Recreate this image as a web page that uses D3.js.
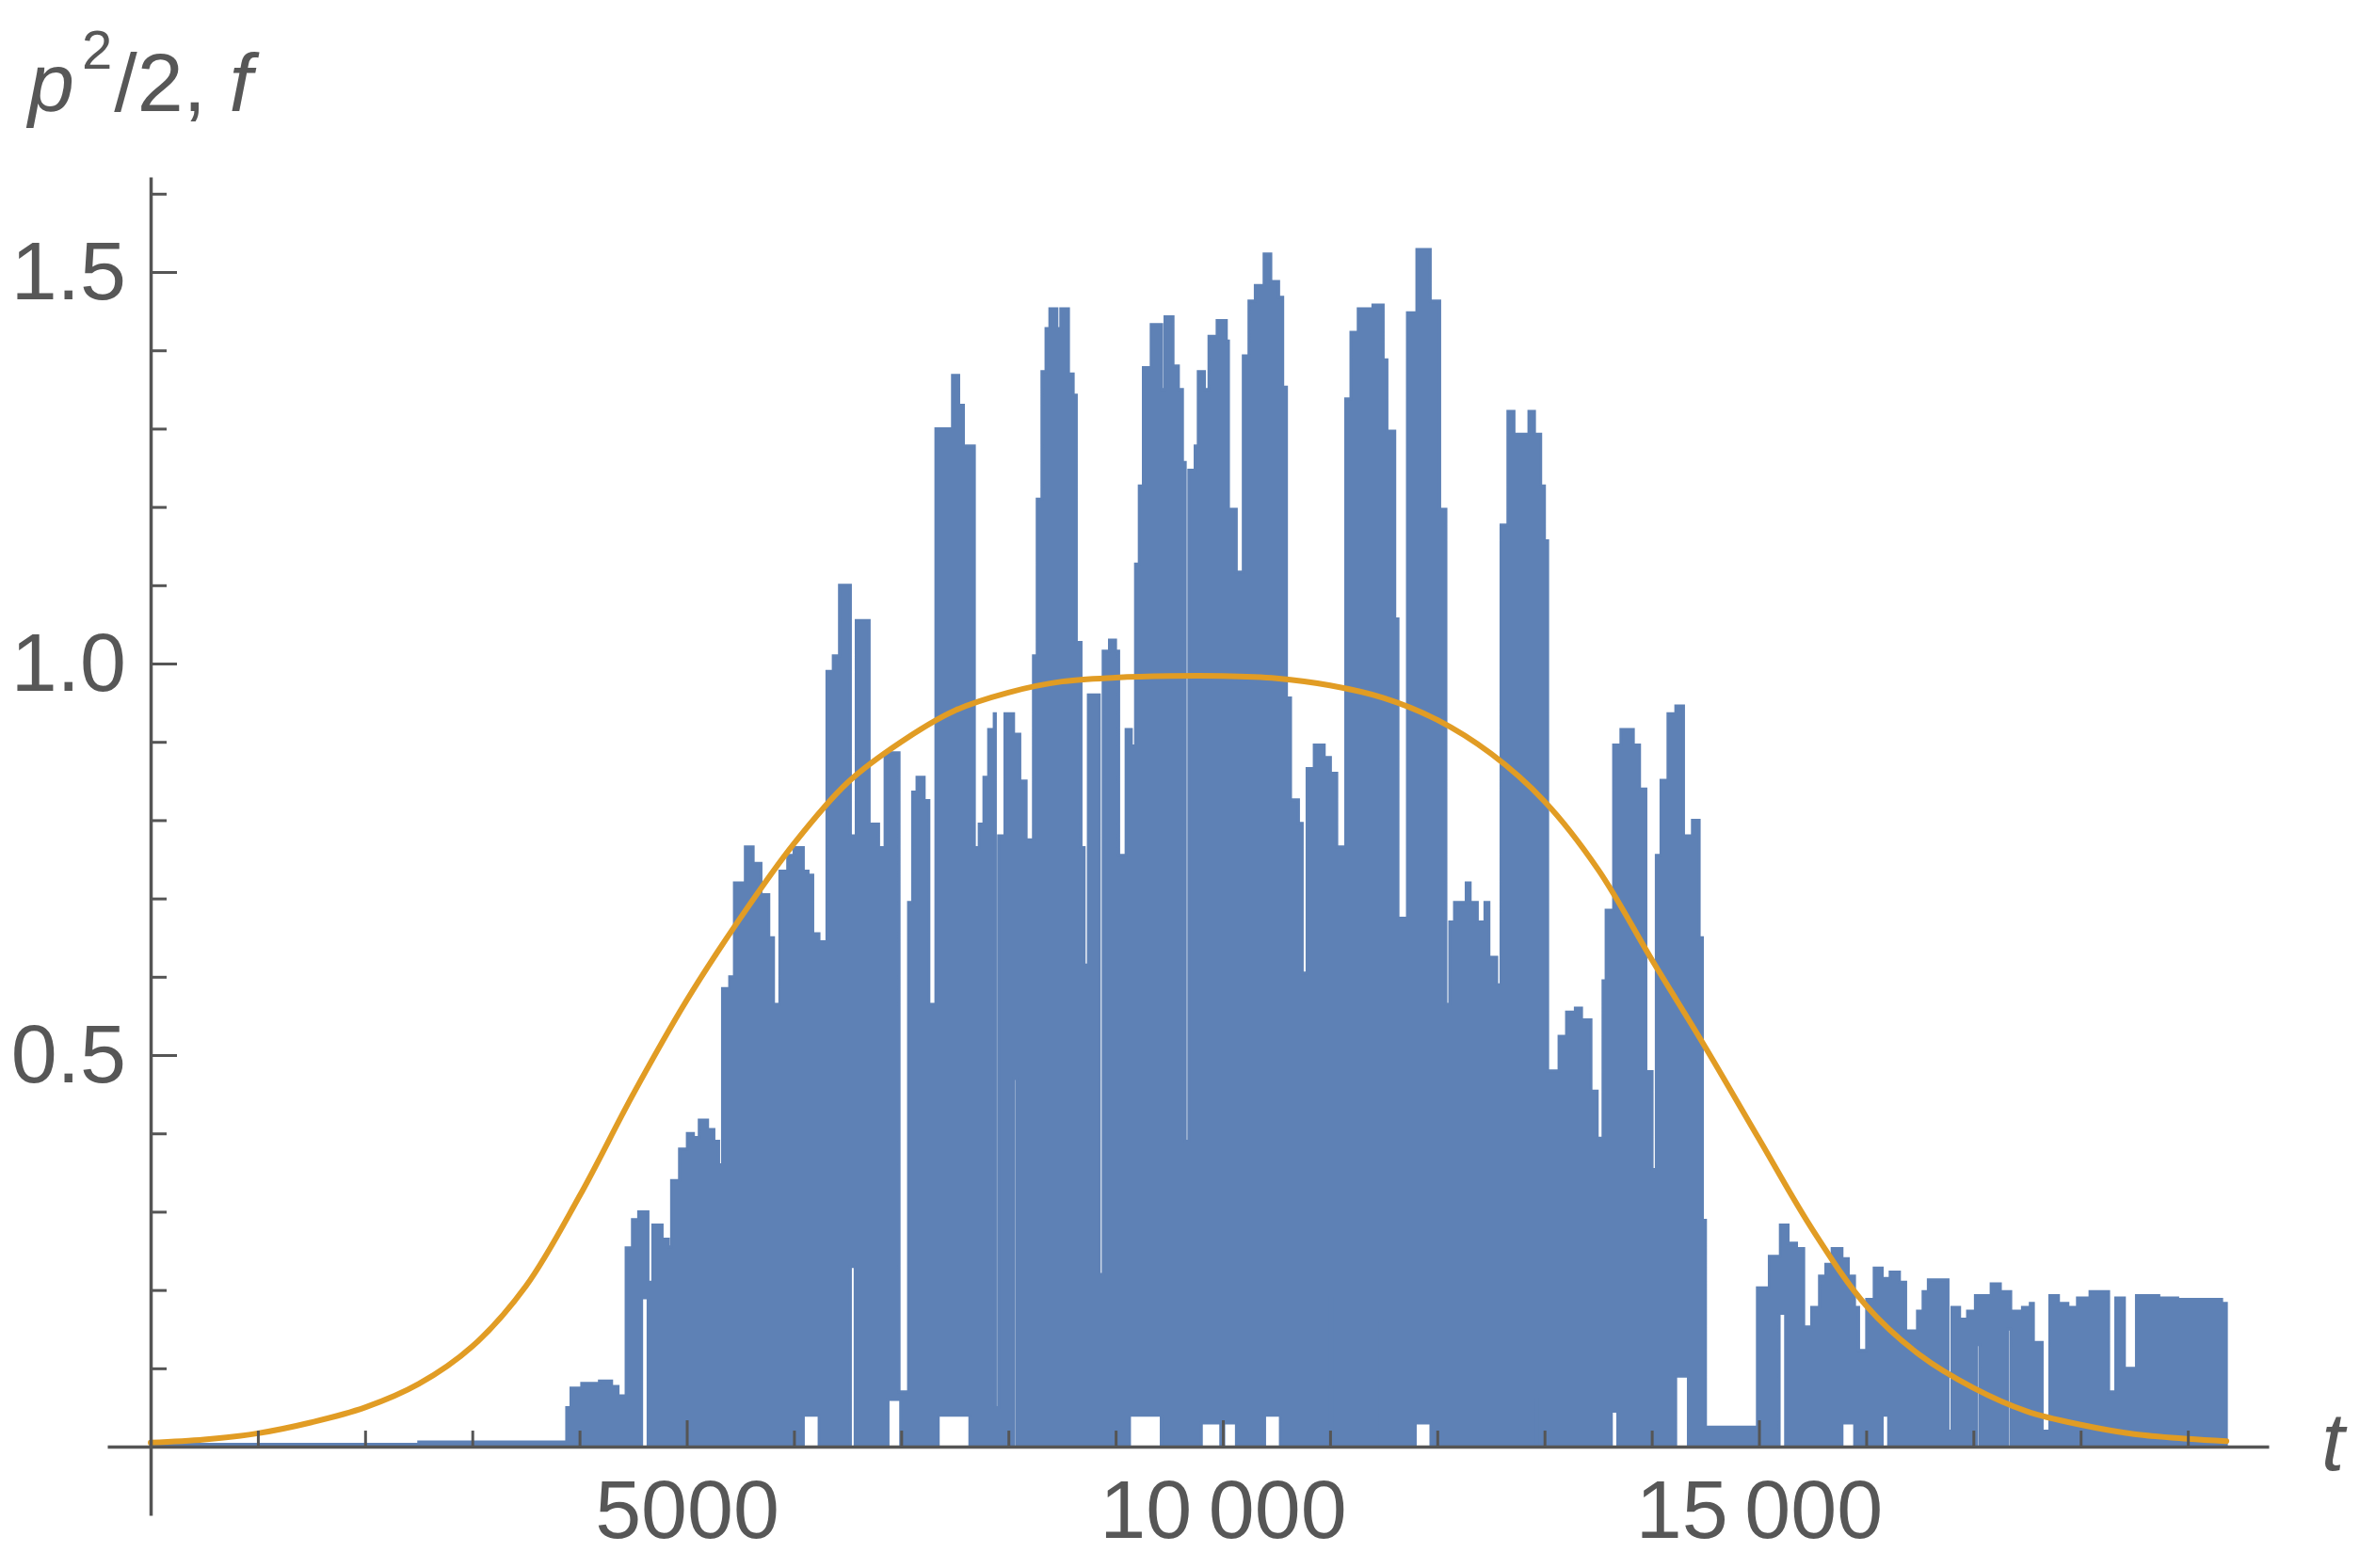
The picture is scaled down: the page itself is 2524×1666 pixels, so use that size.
<!DOCTYPE html>
<html>
<head>
<meta charset="utf-8">
<script src="https://cdn.jsdelivr.net/npm/d3@7"></script>
<style>
  html, body { margin: 0; padding: 0; background: #ffffff; }
  svg { display: block; }
</style>
</head>
<body>
<svg id="chart" width="2524" height="1666"></svg>
<script>
// ---------- DATA ----------
// p^2/2 upper envelope, breakpoints (step-after): time and value
const upperT = [0, 2500, 3880, 3920, 4020, 4185, 4300, 4360, 4434, 4493, 4551, 4639, 4683, 4771, 4829, 4858, 4932, 5005, 5063, 5116, 5195, 5254, 5298, 5333, 5400, 5444, 5546, 5620, 5693, 5766, 5810, 5868, 5941, 6000, 6088, 6132, 6176, 6234, 6307, 6366, 6424, 6527, 6580, 6702,
  6790, 6849, 6981, 7068, 7106, 7147, 7215, 7259, 7323, 7478, 7537, 7581, 7683, 7727, 7771, 7815, 7867, 7879, 7908, 7967, 8049, 8107, 8166, 8233, 8268, 8312, 8350, 8386, 8453, 8488, 8561, 8605, 8634, 8678, 8707, 8745, 8848, 8883, 8942, 9000, 9029, 9097, 9147, 9185, 9220, 9258, 9331, 9430, 9460, 9536, 9586, 9624, 9650, 9682, 9741, 9770, 9829, 9870, 9946, 10033,
  10053, 10126, 10190, 10243, 10302, 10384, 10448, 10521, 10559, 10594, 10632, 10706, 10741, 10785, 10852, 10946, 11004, 11063, 11145, 11194, 11262, 11399, 11496, 11531, 11604, 11634, 11721, 11809, 11935, 12023, 12081, 12116, 12160, 12269, 12307, 12374, 12444, 12482, 12555, 12594, 12658, 12716, 12854, 12907, 12965, 13000, 13030, 13135, 13205, 13287,
  13346, 13434, 13492, 13545, 13574, 13644, 13712, 13829, 13887, 13946, 14004, 14042, 14086, 14151, 14224, 14297, 14379, 14443, 14473, 14502, 14985, 15096, 15199, 15272, 15351, 15418, 15491, 15564, 15623, 15682, 15775, 15834, 15892, 15930, 16004, 16074, 16150, 16223, 16311, 16369, 16478, 16530,
  16579, 16764, 16799, 16872, 16945, 17018, 17165, 17252, 17349, 17457, 17530, 17560, 17642, 17712, 17794, 17882, 17970, 18087, 18262, 18327, 18409, 18520, 18730, 18906, 19140, 19316, 19360];
const upperV = [0.003, 0.006, 0.05, 0.075, 0.081, 0.084, 0.077, 0.065, 0.254, 0.29, 0.30, 0.21, 0.283, 0.265, 0.255, 0.34, 0.38, 0.40, 0.395, 0.417, 0.405, 0.39, 0.36, 0.585, 0.60, 0.72, 0.766, 0.745, 0.705, 0.65, 0.565, 0.735, 0.755, 0.765, 0.735, 0.73, 0.655, 0.645, 0.99, 1.01, 1.10, 0.78, 1.055, 0.795,
  0.765, 0.886, 0.07, 0.695, 0.836, 0.855, 0.825, 0.565, 1.30, 1.368, 1.33, 1.278, 0.765, 0.795, 0.855, 0.916, 0.936, 0.05, 0.78, 0.936, 0.91, 0.85, 0.775, 1.01, 1.21, 1.373, 1.428, 1.453, 1.428, 1.453, 1.37, 1.343, 1.027, 0.765, 0.615, 0.96, 0.22, 1.016, 1.03, 1.016, 0.755, 0.916, 0.895, 1.127, 1.227, 1.378, 1.433, 1.35, 1.443, 1.38, 1.35, 1.257, 0.39, 1.247, 1.278, 1.373, 1.35, 1.418, 1.438, 1.412,
  1.197, 1.117, 1.393, 1.463, 1.483, 1.523, 1.488, 1.468, 1.353, 0.956, 0.826, 0.796, 0.605, 0.866, 0.896, 0.88, 0.86, 0.766, 1.338, 1.423, 1.453, 1.458, 1.388, 1.297, 1.057, 0.675, 1.448, 1.529, 1.463, 1.197, 0.565, 0.67, 0.695, 0.72, 0.695, 0.67, 0.695, 0.625, 0.59, 1.177, 1.322, 1.293, 1.322, 1.293, 1.227, 1.157, 0.48, 0.524, 0.555, 0.56,
  0.545, 0.454, 0.394, 0.595, 0.685, 0.896, 0.916, 0.896, 0.84, 0.479, 0.354, 0.755, 0.851, 0.936, 0.946, 0.78, 0.80, 0.65, 0.289, 0.025, 0.203, 0.243, 0.283, 0.26, 0.253, 0.153, 0.178, 0.218, 0.233, 0.253, 0.24, 0.218, 0.178, 0.123, 0.188, 0.228, 0.215, 0.223, 0.21, 0.148, 0.173, 0.198,
  0.213, 0.02, 0.178, 0.163, 0.173, 0.193, 0.208, 0.198, 0.173, 0.178, 0.183, 0.133, 0.02, 0.193, 0.183, 0.178, 0.19, 0.198, 0.07, 0.19, 0.10, 0.193, 0.19, 0.188, 0.188, 0.183, 0.183];

// p^2/2 lower envelope, breakpoints (step-after); zero elsewhere
const lowerT = [4580, 4639, 6088, 6234, 6527, 6570, 6878, 6995, 7346, 7640, 8049, 8078, 9130, 9425, 9800, 9980, 10009, 10126, 10390, 10536, 11004, 11020, 11470, 11485, 11795, 11940, 12920, 12935, 13624, 13683, 14224, 14341, 15189, 15248, 15775, 15892, 16150, 16209, 17030, 17060, 17320, 17350];
const lowerV = [0.19, 0, 0.04, 0, 0.23, 0, 0.06, 0, 0.04, 0, 0.47, 0, 0.04, 0, 0.03, 0, 0.03, 0, 0.04, 0, 0.19, 0, 0.16, 0, 0.03, 0, 0.06, 0, 0.045, 0, 0.09, 0, 0.17, 0, 0.03, 0, 0.04, 0, 0.13, 0, 0.15, 0];

// f(t) curve
const fT = [0, 500, 1000, 1500, 2000, 2500, 3000, 3500, 4000, 4500, 5000, 5500, 6000, 6500, 7000, 7500, 8000, 8500, 9000, 9500, 10000, 10500, 11000, 11500, 12000, 12500, 13000, 13500, 14000, 14500, 15000, 15500, 16000, 16500, 17000, 17500, 18000, 18500, 19000, 19360];
const fV = [0.005, 0.009, 0.017, 0.031, 0.050, 0.080, 0.128, 0.205, 0.32, 0.45, 0.57, 0.675, 0.77, 0.848, 0.90, 0.94, 0.963, 0.977, 0.982, 0.984, 0.984, 0.981, 0.972, 0.956, 0.928, 0.885, 0.824, 0.737, 0.622, 0.51, 0.393, 0.277, 0.18, 0.117, 0.075, 0.045, 0.028, 0.016, 0.010, 0.007];

// ticks
const xTickValues = [5000, 10000, 15000];
const xTickLabels = ["5000", "10\u2009000", "15\u2009000"];
const xMinorTicks = [1000, 2000, 3000, 4000, 6000, 7000, 8000, 9000, 11000, 12000, 13000, 14000, 16000, 17000, 18000, 19000];
const yTickValues = [0.5, 1.0, 1.5];
const yTickLabels = ["0.5", "1.0", "1.5"];
const yMinorTicks = [0.1, 0.2, 0.3, 0.4, 0.6, 0.7, 0.8, 0.9, 1.1, 1.2, 1.3, 1.4, 1.6];

// ---------- DRAWING ----------
const BLUE = "#5e81b5", ORANGE = "#e19c24", AXIS = "#555555", TEXT = "#575757";
const svg = d3.select("#chart");
svg.append("rect").attr("width", 2524).attr("height", 1666).attr("fill", "#fff");

const x = d3.scaleLinear().domain([-404, 19754]).range([114, 2410]);
const y = d3.scaleLinear().domain([-0.0877, 1.6214]).range([1610, 188]);

// merge step envelopes on a common grid
function stepVal(ts, vs, t, dflt) {
  let v = dflt;
  for (let i = 0; i < ts.length; i++) { if (ts[i] <= t) v = vs[i]; else break; }
  return v;
}
const tEnd = upperT[upperT.length - 1];
const grid = Array.from(new Set(upperT.concat(lowerT))).filter(t => t <= tEnd).sort((a, b) => a - b);
const env = grid.map(t => ({ t, hi: stepVal(upperT, upperV, t, 0), lo: stepVal(lowerT, lowerV, t, 0) }));

const area = d3.area()
  .x(d => x(d.t))
  .y0(d => y(d.lo))
  .y1(d => y(d.hi))
  .curve(d3.curveStepAfter);

svg.append("path")
  .datum(env)
  .attr("d", area)
  .attr("fill", BLUE)
  .attr("stroke", BLUE)
  .attr("stroke-width", 3)
  .attr("stroke-linejoin", "miter");

// f curve
const fData = fT.map((t, i) => ({ t, v: fV[i] }));
svg.append("path")
  .datum(fData)
  .attr("d", d3.line().x(d => x(d.t)).y(d => y(d.v)).curve(d3.curveCatmullRom.alpha(0.5)))
  .attr("fill", "none")
  .attr("stroke", ORANGE)
  .attr("stroke-width", 6)
  .attr("stroke-linecap", "round");

// axes
const x0 = y(0), yAxisX = x(0);
const fontFam = "'Liberation Sans', Arial, sans-serif";

svg.append("g").attr("transform", `translate(0,${x0})`)
  .call(d3.axisBottom(x).tickValues(xTickValues).tickFormat((d, i) => xTickLabels[i])
    .tickSizeInner(-28).tickSizeOuter(0).tickPadding(34));
const xMinor = svg.append("g").attr("transform", `translate(0,${x0})`)
  .call(d3.axisBottom(x).tickValues(xMinorTicks).tickFormat("").tickSizeInner(-17).tickSizeOuter(0));
xMinor.select(".domain").remove();

svg.append("g").attr("transform", `translate(${yAxisX},0)`)
  .call(d3.axisLeft(y).tickValues(yTickValues).tickFormat((d, i) => yTickLabels[i])
    .tickSizeInner(-28).tickSizeOuter(0).tickPadding(26));
const yMinor = svg.append("g").attr("transform", `translate(${yAxisX},0)`)
  .call(d3.axisLeft(y).tickValues(yMinorTicks).tickFormat("").tickSizeInner(-17).tickSizeOuter(0));
yMinor.select(".domain").remove();

svg.selectAll(".domain").attr("stroke", AXIS).attr("stroke-width", 3.5);
svg.selectAll(".tick line").attr("stroke", AXIS).attr("stroke-width", 3);
svg.selectAll(".tick text").attr("fill", TEXT).style("font-family", fontFam).style("font-size", "88px");

// axis labels
const yl = svg.append("text").attr("x", 30).attr("y", 118)
  .attr("fill", TEXT).style("font-family", fontFam).style("font-size", "88px");
yl.append("tspan").style("font-style", "italic").text("p");
yl.append("tspan").attr("dx", 8).attr("dy", -45).style("font-size", "58px").text("2");
yl.append("tspan").attr("dx", 2).attr("dy", 45).text("/2, ");
yl.append("tspan").style("font-style", "italic").text("f");

svg.append("text").attr("x", 2466).attr("y", 1562)
  .attr("fill", TEXT).style("font-family", fontFam).style("font-size", "88px").style("font-style", "italic")
  .text("t");
</script>
</body>
</html>
